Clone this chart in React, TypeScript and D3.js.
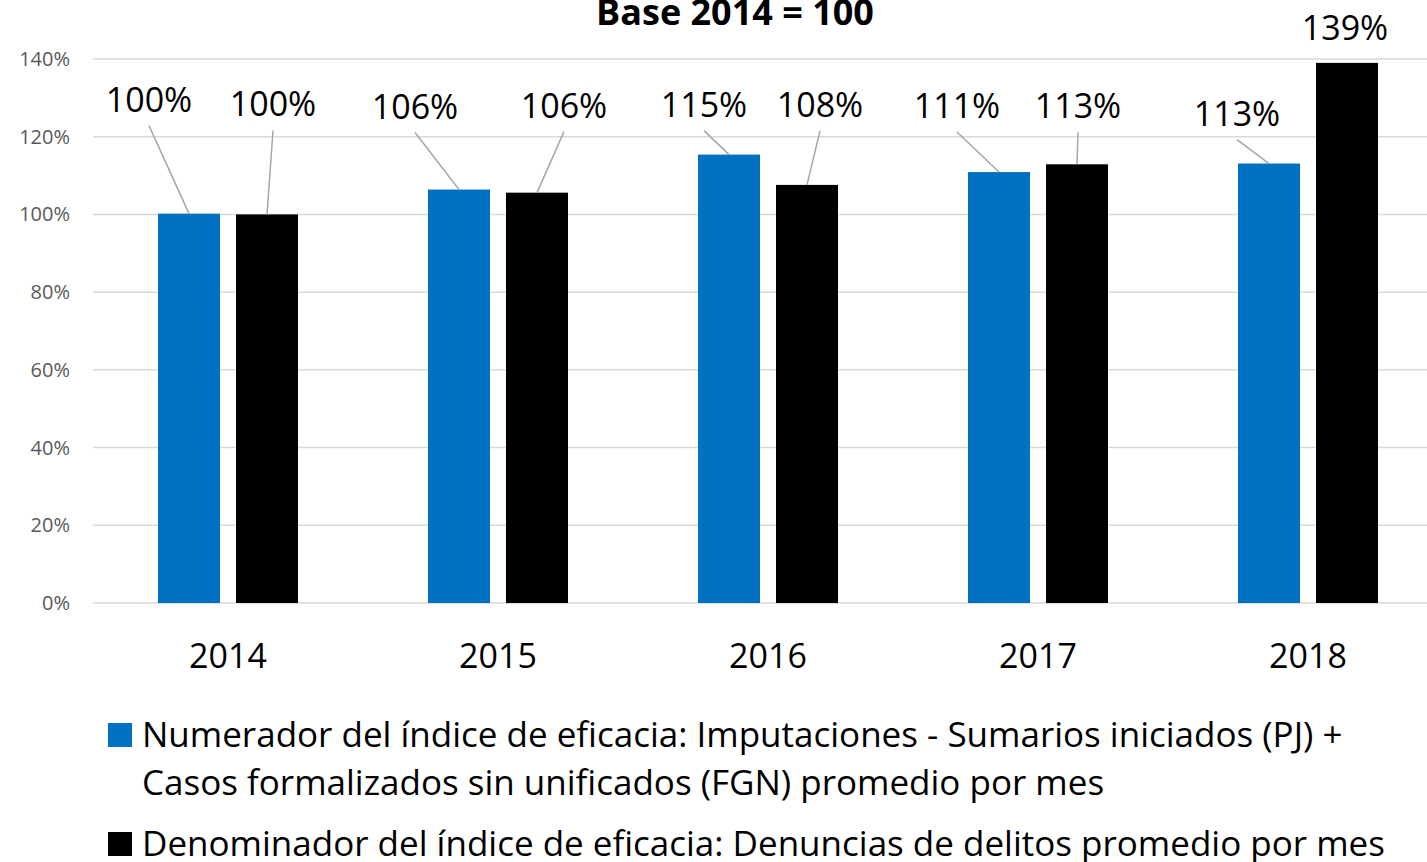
import React, { useEffect, useRef } from "react";
import * as d3 from "d3";

// categories and series values (percent, base 2014 = 100)
const years = ["2014", "2015", "2016", "2017", "2018"];
const numerador = [100.2, 106.4, 115.4, 110.9, 113.1];
const denominador = [100, 105.6, 107.6, 112.9, 139];
const yTicks = [0, 20, 40, 60, 80, 100, 120, 140];

const seriesNames = [
  "Numerador del índice de eficacia: Imputaciones - Sumarios iniciados (PJ) +|Casos formalizados sin unificados (FGN) promedio por mes",
  "Denominador del índice de eficacia: Denuncias de delitos promedio por mes",
];
const seriesColors = ["#0070C0", "#000000"];

// label placement in pixels relative to the top centre of each bar (as moved by hand in the original)
const labelOffsets = [
  [[-40, -102], [-44, -71], [-25, -38], [-42, -54], [-32, -38]],
  [[6, -98], [27, -75], [13, -68], [1, -46], [-2, -23]],
];
const showLeader = [
  [true, true, true, true, true],
  [true, true, true, true, false],
];

const FONT = "'Open Sans', 'Noto Sans', sans-serif";

const App: React.FC = () => {
  const ref = useRef<HTMLDivElement>(null);

  useEffect(() => {
    if (!ref.current) return;
    document.body.style.margin = "0";
    d3.select(ref.current).selectAll("svg").remove();

    const width = 1427;
    const height = 862;
    const plot = { left: 93, right: 1443, top: 59, bottom: 603 };

    const svg = d3.select(ref.current)
      .append("svg")
      .attr("width", width)
      .attr("height", height)
      .style("display", "block")
      .style("font-family", FONT);

    const x0 = d3.scaleBand<string>().domain(years).range([plot.left, plot.right]);
    const x1 = d3.scaleBand<number>()
      .domain([0, 1])
      .range([65, 205])
      .paddingInner(16 / 78);
    const y = d3.scaleLinear().domain([0, 140]).range([plot.bottom, plot.top]);

    // title (cut at the top edge, as in the original)
    svg.append("text")
      .attr("x", 735)
      .attr("y", 25)
      .attr("text-anchor", "middle")
      .attr("font-weight", "bold")
      .attr("font-size", 36)
      .text("Base 2014 = 100");

    // gridlines
    svg.append("g")
      .selectAll("line")
      .data(yTicks)
      .join("line")
      .attr("x1", plot.left)
      .attr("x2", width)
      .attr("y1", d => y(d))
      .attr("y2", d => y(d))
      .attr("stroke", "#D9D9D9")
      .attr("stroke-width", 1.5);

    // y axis labels
    svg.append("g")
      .selectAll("text")
      .data(yTicks)
      .join("text")
      .attr("x", 70)
      .attr("y", d => y(d))
      .attr("dy", "0.35em")
      .attr("text-anchor", "end")
      .attr("font-size", 20)
      .attr("fill", "#595959")
      .text(d => `${d}%`);

    // x axis labels
    svg.append("g")
      .selectAll("text")
      .data(years)
      .join("text")
      .attr("x", d => (x0(d) ?? 0) + x0.bandwidth() / 2)
      .attr("y", 668)
      .attr("text-anchor", "middle")
      .attr("font-size", 34)
      .attr("fill", "#000")
      .text(d => d);

    const series = [numerador, denominador];
    const bars = series.flatMap((vals, s) =>
      vals.map((v, i) => ({ s, i, v, year: years[i] }))
    );

    // bars
    svg.append("g")
      .selectAll("rect")
      .data(bars)
      .join("rect")
      .attr("x", d => (x0(d.year) ?? 0) + (x1(d.s) ?? 0))
      .attr("y", d => y(d.v))
      .attr("width", x1.bandwidth())
      .attr("height", d => y(0) - y(d.v))
      .attr("fill", d => seriesColors[d.s]);

    const barTop = (d: { s: number; year: string; v: number }) => ({
      cx: (x0(d.year) ?? 0) + (x1(d.s) ?? 0) + x1.bandwidth() / 2,
      cy: y(d.v),
    });

    // leader lines
    svg.append("g")
      .selectAll("line")
      .data(bars.filter(d => showLeader[d.s][d.i]))
      .join("line")
      .attr("x1", d => barTop(d).cx + labelOffsets[d.s][d.i][0])
      .attr("y1", d => barTop(d).cy + labelOffsets[d.s][d.i][1] + 14)
      .attr("x2", d => barTop(d).cx)
      .attr("y2", d => barTop(d).cy)
      .attr("stroke", "#A6A6A6")
      .attr("stroke-width", 1.5);

    // data labels
    svg.append("g")
      .selectAll("text")
      .data(bars)
      .join("text")
      .attr("x", d => barTop(d).cx + labelOffsets[d.s][d.i][0])
      .attr("y", d => barTop(d).cy + labelOffsets[d.s][d.i][1])
      .attr("text-anchor", "middle")
      .attr("font-size", 34)
      .attr("fill", "#000")
      .text(d => `${Math.round(d.v)}%`);

    // legend
    const legendRows = [747, 856];
    const legend = svg.append("g");
    seriesNames.forEach((name, s) => {
      const base = legendRows[s];
      legend.append("rect")
        .attr("x", 108)
        .attr("y", base - 24)
        .attr("width", 24)
        .attr("height", 24)
        .attr("fill", seriesColors[s]);
      const t = legend.append("text")
        .attr("x", 142)
        .attr("y", base)
        .attr("font-size", 35)
        .attr("fill", "#000");
      name.split("|").forEach((line, k) => {
        t.append("tspan")
          .attr("x", 142)
          .attr("dy", k === 0 ? 0 : 48)
          .text(line);
      });
    });
  }, []);

  return <div ref={ref} />;
};

export default App;
